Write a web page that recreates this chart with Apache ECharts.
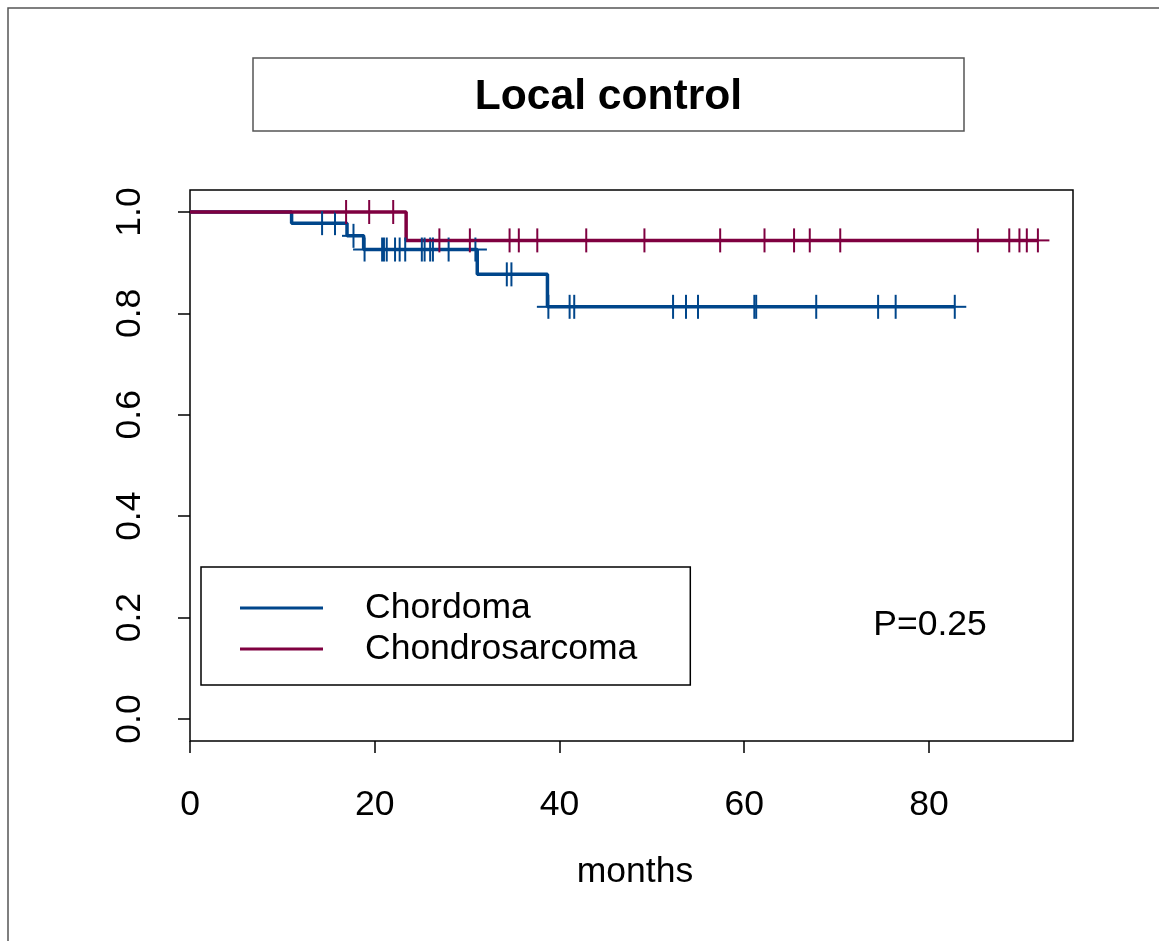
<!DOCTYPE html>
<html>
<head>
<meta charset="utf-8">
<script src="https://cdn.jsdelivr.net/npm/echarts@6/dist/echarts.min.js"></script>
<style>
html,body{margin:0;padding:0;background:#fff;}
#chart{width:1159px;height:941px;}
</style>
</head>
<body>
<div id="chart"></div>
<script>
// ---- data ----
const seriesNames = ['Chordoma', 'Chondrosarcoma'];
// Kaplan-Meier step points [time, survival]
const chordomaTimes = [0, 11.0, 17.0, 18.8, 31.1, 38.7, 82.8];
const chordomaSurv  = [1.0, 0.978, 0.953, 0.926, 0.877, 0.813, 0.813];
const chondroTimes  = [0, 23.4, 91.8];
const chondroSurv   = [1.0, 0.944, 0.944];
// censoring times
const chordomaCensor = [14.3, 15.7, 17.7, 18.9, 20.8, 21.0, 21.3, 22.2, 22.7, 23.3, 25.1, 25.4, 26.0, 26.3, 28.0, 30.9,
                        34.3, 34.8, 38.8, 41.1, 41.6, 52.3, 53.7, 55.0, 61.1, 61.3, 67.8, 74.5, 76.4, 82.8];
const chondroCensor  = [16.9, 19.4, 22.0, 27.0, 30.3, 34.6, 35.6, 37.6, 42.9, 49.2, 57.4, 62.2, 65.4, 67.1, 70.4,
                        85.3, 88.7, 89.8, 90.6, 91.8];
const xTicks = [0, 20, 40, 60, 80];
const yTicks = [0, 0.2, 0.4, 0.6, 0.8, 1.0];
const titleText = 'Local control';
const xName = 'months';
const pText = 'P=0.25';

const colors = ['#00468B', '#7F0040'];
const FONT = "'Liberation Sans', Arial, sans-serif";
const FS = 35.5;

function pairs(ts, ss) { return ts.map((t, i) => [t, ss[i]]); }
function levelAt(ts, ss, t) {
  let v = ss[0];
  for (let i = 0; i < ts.length; i++) { if (ts[i] <= t) v = ss[i]; }
  return v;
}
function censorData(cs, ts, ss) { return cs.map(t => [t, levelAt(ts, ss, t)]); }

function plusRender(color) {
  return function (params, api) {
    const p = api.coord([api.value(0), api.value(1)]);
    const h = 12, w = 11.5;
    const st = { stroke: color, lineWidth: 2 };
    return {
      type: 'group',
      children: [
        { type: 'line', shape: { x1: p[0], y1: p[1] - h, x2: p[0], y2: p[1] + h }, style: st },
        { type: 'line', shape: { x1: p[0] - w, y1: p[1], x2: p[0] + w, y2: p[1] }, style: st }
      ]
    };
  };
}

const chart = echarts.init(document.getElementById('chart'), null, { renderer: 'canvas' });
chart.setOption({
  animation: false,
  backgroundColor: '#fff',
  textStyle: { fontFamily: FONT },
  grid: { left: 190, top: 190, width: 883, height: 551, show: true, borderColor: '#000', borderWidth: 1.5, backgroundColor: 'transparent' },
  xAxis: {
    type: 'value', min: 0, max: 95.6,
    axisLine: { show: false, onZero: false },
    splitLine: { show: false },
    axisTick: { show: true, customValues: xTicks, length: 12, lineStyle: { color: '#000', width: 1.5 } },
    axisLabel: { customValues: xTicks, fontSize: FS, color: '#000', fontFamily: FONT, margin: 46 }
  },
  yAxis: {
    type: 'value', min: -0.0434, max: 1.0434,
    axisLine: { show: false, onZero: false },
    splitLine: { show: false },
    axisTick: { show: true, customValues: yTicks, length: 12, lineStyle: { color: '#000', width: 1.5 } },
    axisLabel: { customValues: yTicks, rotate: 90, fontSize: FS, color: '#000', fontFamily: FONT, margin: 42,
                 formatter: v => v.toFixed(1) }
  },
  legend: {
    data: seriesNames,
    orient: 'vertical',
    left: 201, top: 567,
    padding: [23, 53, 18, 39],
    itemGap: 5,
    itemWidth: 83, itemHeight: 3,
    icon: 'rect',
    borderColor: '#000', borderWidth: 1.5,
    backgroundColor: '#fff',
    textStyle: { fontSize: FS, color: '#000', fontFamily: FONT, padding: [0, 0, 0, 37] }
  },
  graphic: [
    { type: 'rect', shape: { x: 8, y: 8, width: 1200, height: 1000 }, style: { fill: 'none', stroke: '#555', lineWidth: 1.5 }, silent: true },
    { type: 'rect', shape: { x: 253, y: 58, width: 711, height: 73 }, style: { fill: 'none', stroke: '#555', lineWidth: 1.5 }, silent: true },
    { type: 'text', x: 608.5, y: 97, style: { text: titleText, font: 'bold 42.6px ' + FONT, fill: '#000', textAlign: 'center', textVerticalAlign: 'middle' } },
    { type: 'text', x: 635, y: 872, style: { text: xName, font: FS + 'px ' + FONT, fill: '#000', textAlign: 'center', textVerticalAlign: 'middle' } },
    { type: 'text', x: 930, y: 625, style: { text: pText, font: FS + 'px ' + FONT, fill: '#000', textAlign: 'center', textVerticalAlign: 'middle' } }
  ],
  series: [
    { name: seriesNames[0], type: 'line', step: 'end', data: pairs(chordomaTimes, chordomaSurv), showSymbol: false, symbol: 'none',
      lineStyle: { color: colors[0], width: 3.5 }, itemStyle: { color: colors[0] }, z: 3 },
    { name: seriesNames[1], type: 'line', step: 'end', data: pairs(chondroTimes, chondroSurv), showSymbol: false, symbol: 'none',
      lineStyle: { color: colors[1], width: 3.5 }, itemStyle: { color: colors[1] }, z: 3 },
    { name: 'Chordoma censored', type: 'custom', renderItem: plusRender(colors[0]), data: censorData(chordomaCensor, chordomaTimes, chordomaSurv), z: 4 },
    { name: 'Chondrosarcoma censored', type: 'custom', renderItem: plusRender(colors[1]), data: censorData(chondroCensor, chondroTimes, chondroSurv), z: 4 }
  ]
});
</script>
</body>
</html>
